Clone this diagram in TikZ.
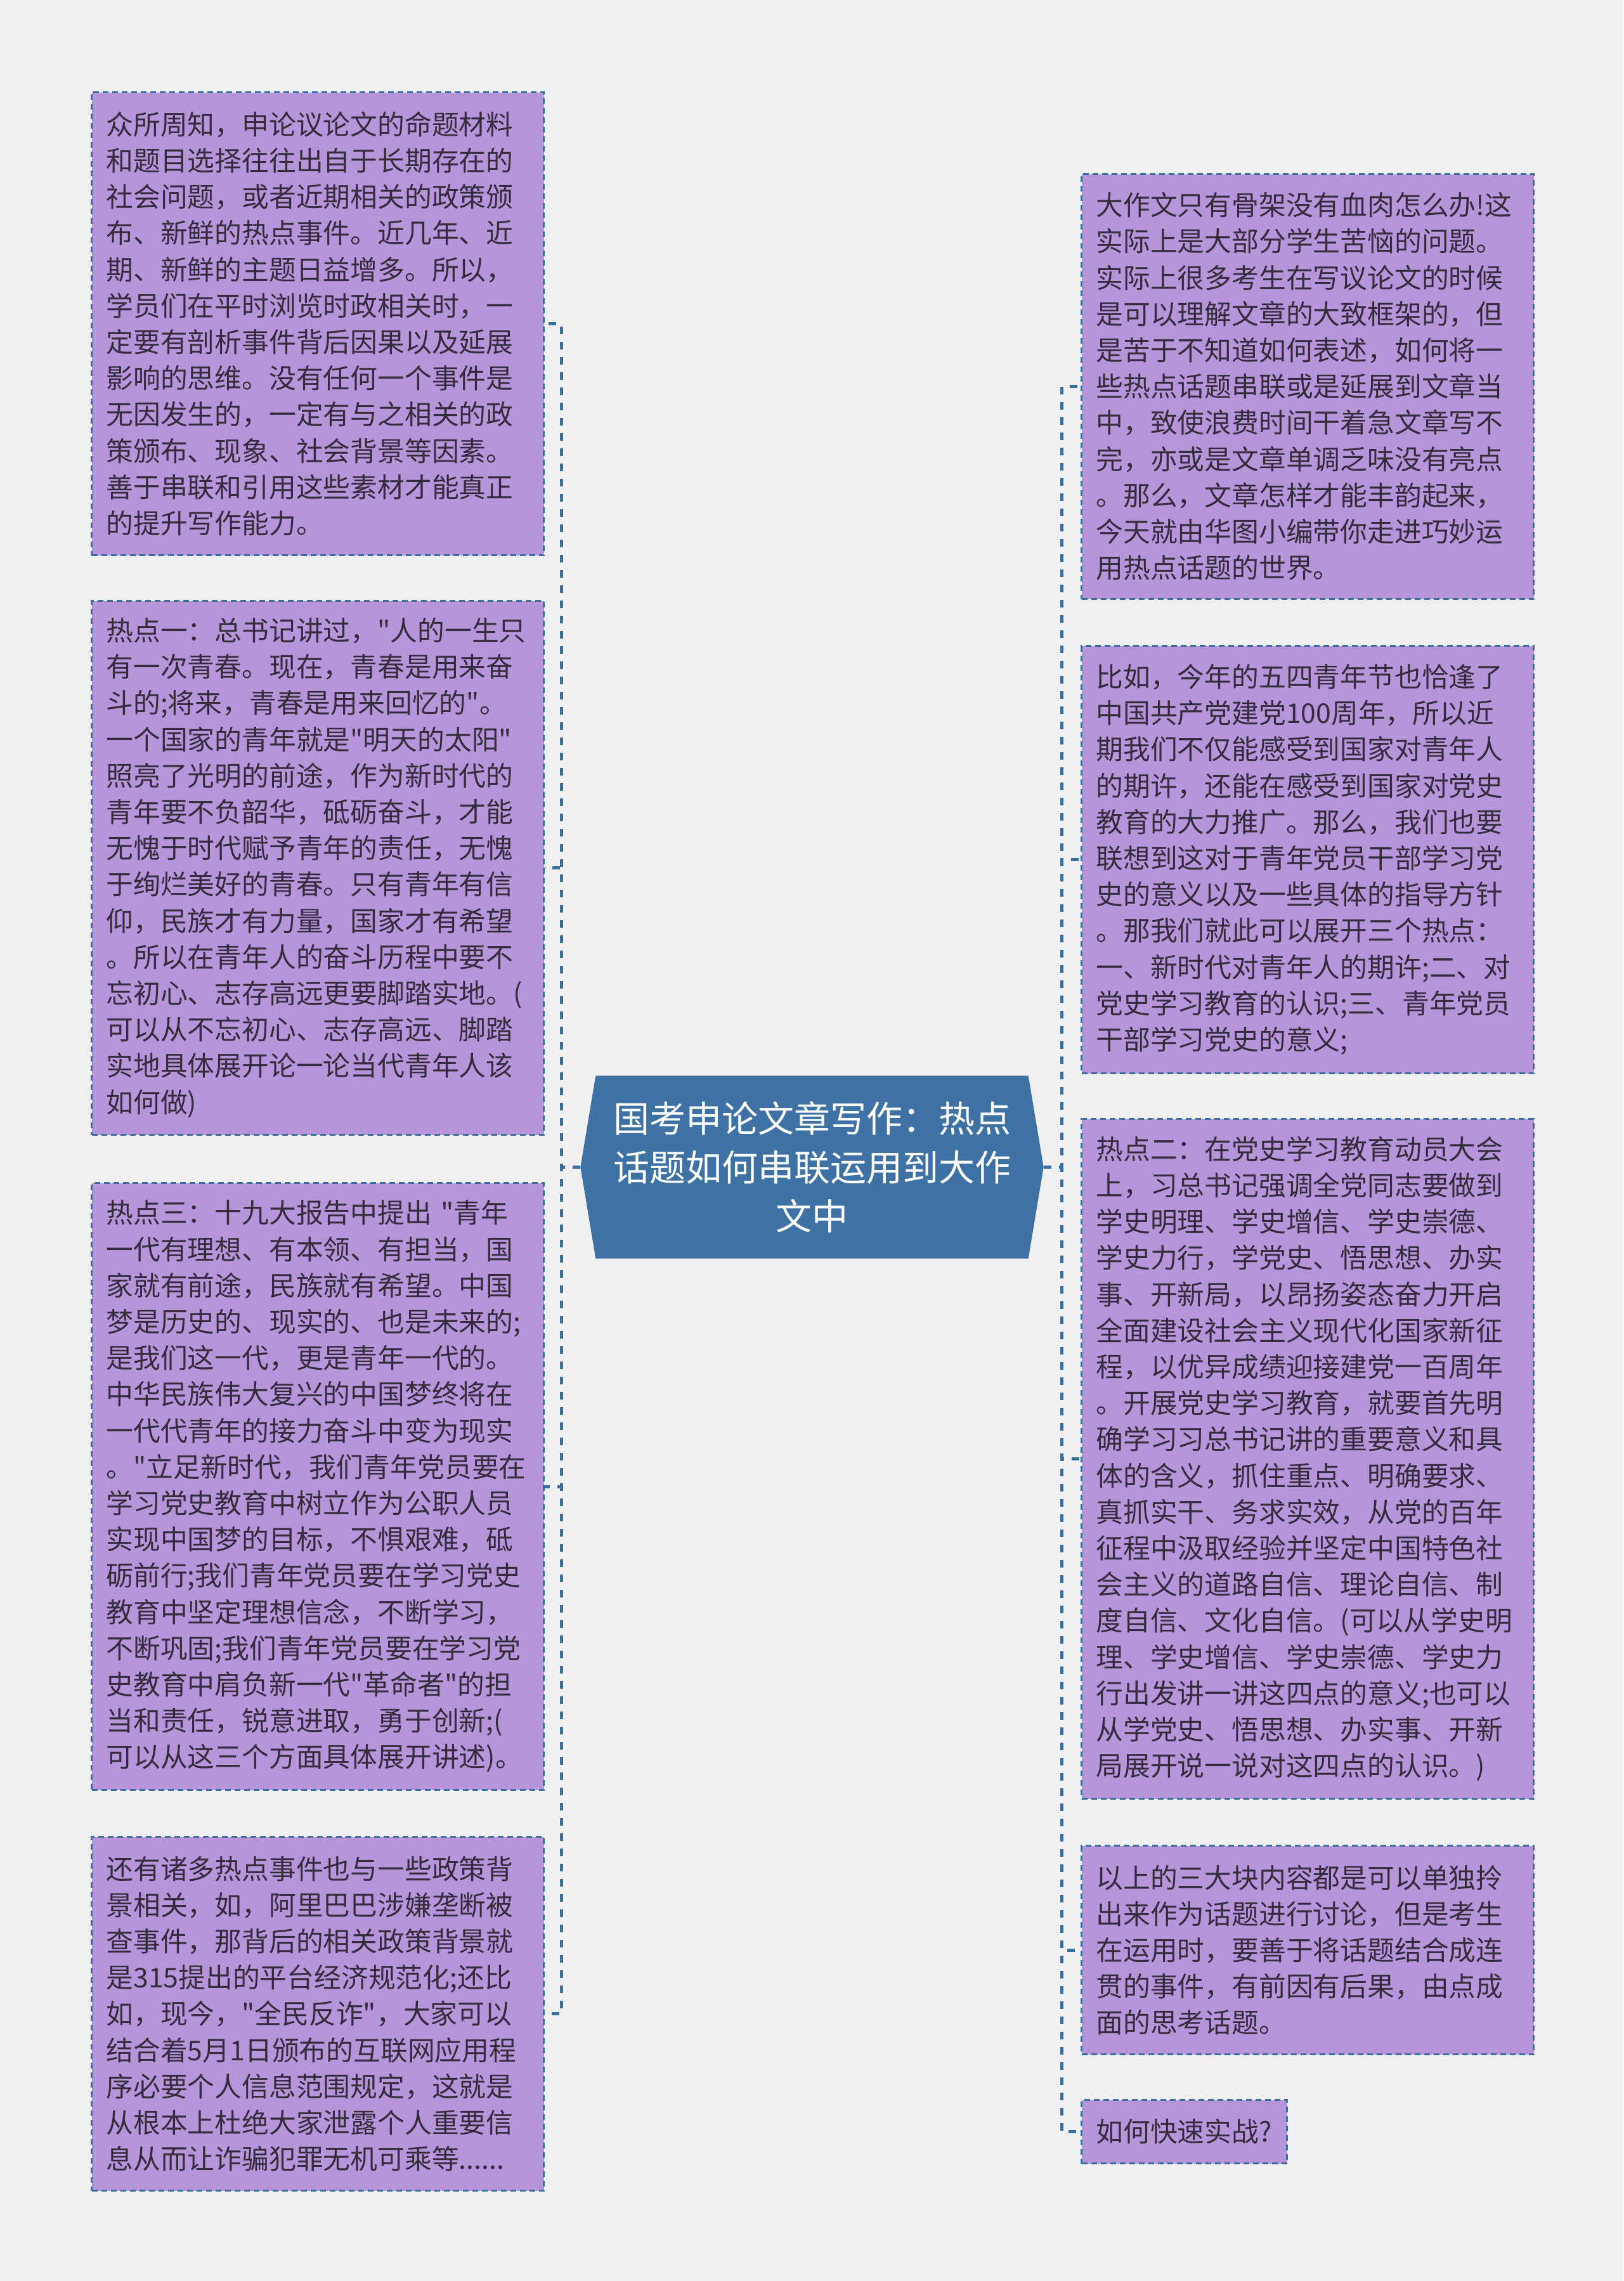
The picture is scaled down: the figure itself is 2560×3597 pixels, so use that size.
\documentclass[tikz,border=0pt]{standalone}
\usepackage{fontspec}
\newfontfamily\cjk{Noto Sans CJK SC}
\definecolor{bgcol}{RGB}{240,240,240}
\definecolor{boxfill}{RGB}{182,149,218}
\definecolor{lineblue}{RGB}{58,110,160}
\definecolor{rootfill}{RGB}{62,114,165}
\definecolor{textdark}{RGB}{52,44,60}
\begin{document}
\begin{tikzpicture}[x=0.3pt,y=-0.3pt,
  leaf/.style={draw=lineblue, fill=boxfill, line width=0.9pt,
    dash pattern=on 2.7pt off 1.8pt, text=textdark,
    font=\cjk\fontsize{12.84pt}{17.16pt}\selectfont,
    align=left, text width=200.1pt, inner sep=0pt, anchor=north west,
    minimum width=213.9pt},
  link/.style={draw=lineblue, line width=1.5pt, dash pattern=on 3.6pt off 3.6pt},
  rootbox/.style={minimum width=218.7pt, minimum height=86.1pt, inner sep=0pt},
  roottext/.style={text=white, align=center, inner sep=0pt,
    font=\cjk\fontsize{17.1pt}{23pt}\selectfont}]
\fill[bgcol] (0,0) rectangle (2560,3597);

% root
\node[rootbox] (root) at (1280.5,1840.5) {};
\fill[rootfill] (root.west) -- ([xshift=7.2pt]root.north west) -- ([xshift=-7.2pt]root.north east)
  -- (root.east) -- ([xshift=-7.2pt]root.south east) -- ([xshift=7.2pt]root.south west) -- cycle;
\node[roottext] (rtxt) at (root.center) {国考申论文章写作：热点\\话题如何串联运用到大作\\文中};

% left boxes
\node[leaf, minimum height=219pt] (L1) at (143,144) {众所周知，申论议论文的命题材料\\和题目选择往往出自于长期存在的\\社会问题，或者近期相关的政策颁\\布、新鲜的热点事件。近几年、近\\期、新鲜的主题日益增多。所以，\\学员们在平时浏览时政相关时，一\\定要有剖析事件背后因果以及延展\\影响的思维。没有任何一个事件是\\无因发生的，一定有与之相关的政\\策颁布、现象、社会背景等因素。\\善于串联和引用这些素材才能真正\\的提升写作能力。};

\node[leaf, minimum height=252.6pt] (L2) at (143,946) {热点一：总书记讲过，"人的一生只\\有一次青春。现在，青春是用来奋\\斗的;将来，青春是用来回忆的"。\\一个国家的青年就是"明天的太阳"\\照亮了光明的前途，作为新时代的\\青年要不负韶华，砥砺奋斗，才能\\无愧于时代赋予青年的责任，无愧\\于绚烂美好的青春。只有青年有信\\仰，民族才有力量，国家才有希望\\。所以在青年人的奋斗历程中要不\\忘初心、志存高远更要脚踏实地。(\\可以从不忘初心、志存高远、脚踏\\实地具体展开论一论当代青年人该\\如何做)};

\node[leaf, minimum height=287.1pt] (L3) at (143,1864) {热点三：十九大报告中提出~"青年\\一代有理想、有本领、有担当，国\\家就有前途，民族就有希望。中国\\梦是历史的、现实的、也是未来的;\\是我们这一代，更是青年一代的。\\中华民族伟大复兴的中国梦终将在\\一代代青年的接力奋斗中变为现实\\。"立足新时代，我们青年党员要在\\学习党史教育中树立作为公职人员\\实现中国梦的目标，不惧艰难，砥\\砺前行;我们青年党员要在学习党史\\教育中坚定理想信念，不断学习，\\不断巩固;我们青年党员要在学习党\\史教育中肩负新一代"革命者"的担\\当和责任，锐意进取，勇于创新;(\\可以从这三个方面具体展开讲述)。};

\node[leaf, minimum height=167.4pt] (L4) at (143,2895) {还有诸多热点事件也与一些政策背\\景相关，如，阿里巴巴涉嫌垄断被\\查事件，那背后的相关政策背景就\\是315提出的平台经济规范化;还比\\如，现今，"全民反诈"，大家可以\\结合着5月1日颁布的互联网应用程\\序必要个人信息范围规定，这就是\\从根本上杜绝大家泄露个人重要信\\息从而让诈骗犯罪无机可乘等......};

% right boxes
\node[leaf, minimum height=201pt] (R1) at (1704,273) {大作文只有骨架没有血肉怎么办!这\\实际上是大部分学生苦恼的问题。\\实际上很多考生在写议论文的时候\\是可以理解文章的大致框架的，但\\是苦于不知道如何表述，如何将一\\些热点话题串联或是延展到文章当\\中，致使浪费时间干着急文章写不\\完，亦或是文章单调乏味没有亮点\\。那么，文章怎样才能丰韵起来，\\今天就由华图小编带你走进巧妙运\\用热点话题的世界。};

\node[leaf, minimum height=202.2pt] (R2) at (1704,1017) {比如，今年的五四青年节也恰逢了\\中国共产党建党100周年，所以近\\期我们不仅能感受到国家对青年人\\的期许，还能在感受到国家对党史\\教育的大力推广。那么，我们也要\\联想到这对于青年党员干部学习党\\史的意义以及一些具体的指导方针\\。那我们就此可以展开三个热点：\\一、新时代对青年人的期许;二、对\\党史学习教育的认识;三、青年党员\\干部学习党史的意义;};

\node[leaf, minimum height=321.6pt] (R3) at (1704,1763) {热点二：在党史学习教育动员大会\\上，习总书记强调全党同志要做到\\学史明理、学史增信、学史崇德、\\学史力行，学党史、悟思想、办实\\事、开新局，以昂扬姿态奋力开启\\全面建设社会主义现代化国家新征\\程，以优异成绩迎接建党一百周年\\。开展党史学习教育，就要首先明\\确学习习总书记讲的重要意义和具\\体的含义，抓住重点、明确要求、\\真抓实干、务求实效，从党的百年\\征程中汲取经验并坚定中国特色社\\会主义的道路自信、理论自信、制\\度自信、文化自信。(可以从学史明\\理、学史增信、学史崇德、学史力\\行出发讲一讲这四点的意义;也可以\\从学党史、悟思想、办实事、开新\\局展开说一说对这四点的认识。)};

\node[leaf, minimum height=98.7pt] (R4) at (1704,2909) {以上的三大块内容都是可以单独拎\\出来作为话题进行讨论，但是考生\\在运用时，要善于将话题结合成连\\贯的事件，有前因有后果，由点成\\面的思考话题。};

\node[leaf, minimum height=30pt, minimum width=97.2pt, text width=83.4pt] (R5) at (1704,3310) {如何快速实战?};

% connectors
\foreach \b in {L1,L2,L3,L4}
  \draw[link] (root.west) -- ++(-30,0) |- (\b.east);
\foreach \b in {R1,R2,R3,R4,R5}
  \draw[link] (root.east) -- ++(29,0) |- (\b.west);
\end{tikzpicture}
\end{document}
